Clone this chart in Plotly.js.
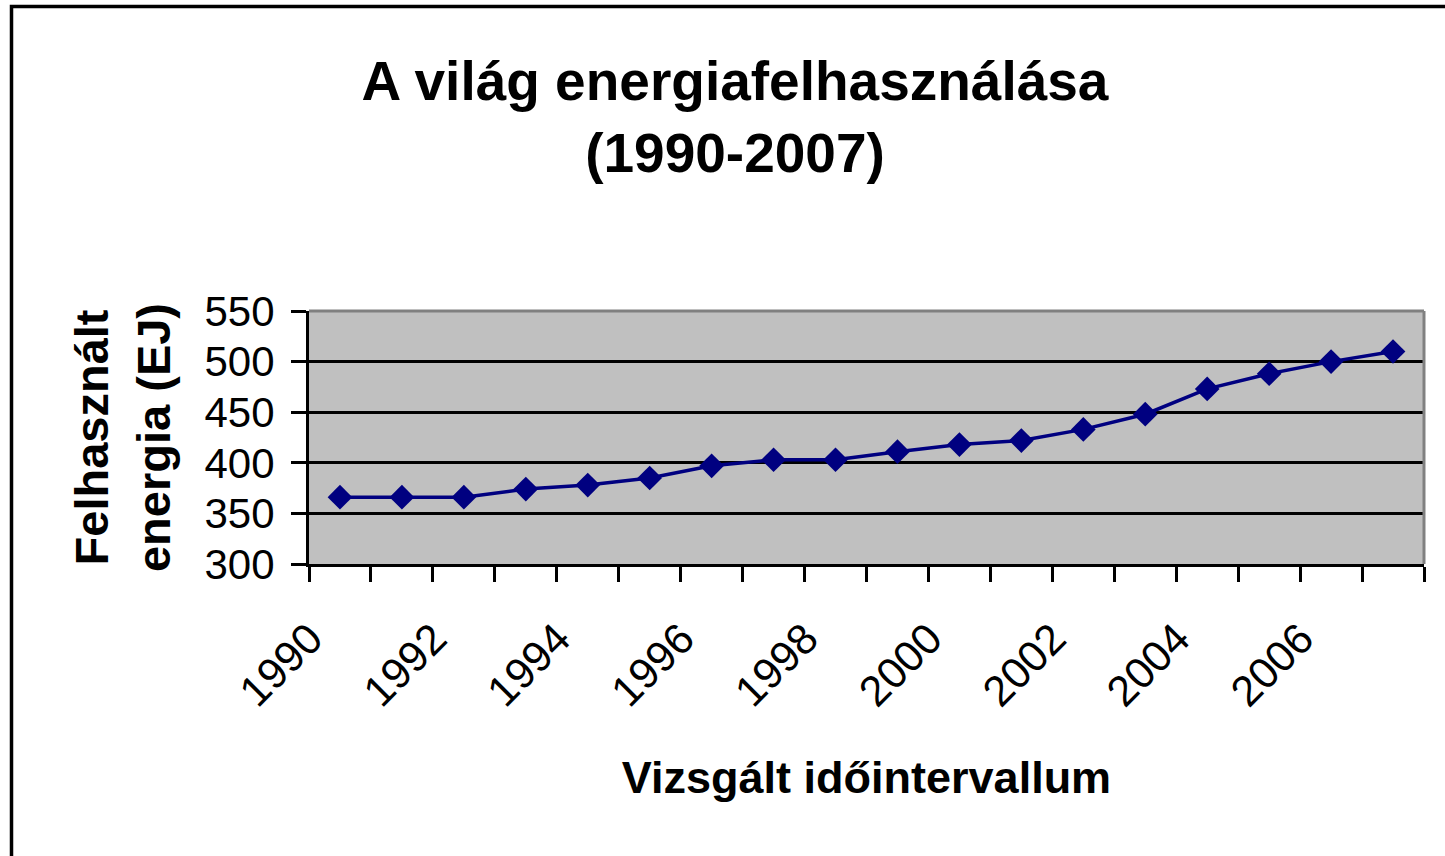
<!DOCTYPE html>
<html>
<head>
<meta charset="utf-8">
<script src="https://cdn.plot.ly/plotly-3.0.1.min.js"></script>
<style>
  html, body { margin: 0; padding: 0; background: #ffffff; }
  #chart { width: 1445px; height: 856px; }
</style>
</head>
<body>
<div id="chart"></div>
<script>
// ---- data ----
const years = [1990, 1991, 1992, 1993, 1994, 1995, 1996, 1997, 1998, 1999,
               2000, 2001, 2002, 2003, 2004, 2005, 2006, 2007];
const energyEJ = [366, 366, 366, 374, 378, 385, 397, 403, 403, 411,
                  418, 422, 433, 448, 473, 488, 500, 510];
const xTickVals = [1990, 1992, 1994, 1996, 1998, 2000, 2002, 2004, 2006];
const xTickText = ['1990', '1992', '1994', '1996', '1998', '2000', '2002', '2004', '2006'];
const yTickVals = [300, 350, 400, 450, 500, 550];

const chartTitle = 'A világ energiafelhasználása<br>(1990-2007)';
const xTitle = 'Vizsgált időintervallum';
const yTitle = 'Felhasznált<br>energia (EJ)';

// ---- layout geometry ----
const W = 1445, H = 856;
const M = { l: 309, r: 21, t: 311, b: 292 };
const plotW = W - M.l - M.r, plotH = H - M.t - M.b;
const px2x = px => (px - M.l) / plotW;
const py2y = py => (H - M.b - py) / plotH;

const FONT = '"Liberation Sans", Arial, sans-serif';

const trace = {
  x: years,
  y: energyEJ,
  type: 'scatter',
  mode: 'lines+markers',
  line: { color: '#000080', width: 3.5 },
  marker: { symbol: 'diamond', size: 19, color: '#000080' },
  cliponaxis: false,
  hoverinfo: 'x+y'
};

const layout = {
  width: W, height: H,
  margin: M,
  paper_bgcolor: '#ffffff',
  plot_bgcolor: '#c0c0c0',
  showlegend: false,
  font: { family: FONT, color: '#000000' },
  title: {
    text: chartTitle,
    font: { family: FONT, size: 55, color: '#000000', weight: 'bold' },
    x: 735 / W, xanchor: 'center', xref: 'container',
    y: 1 - 100 / H, yanchor: 'top', yref: 'container'
  },
  xaxis: {
    range: [1989.5, 2007.5],
    tickvals: xTickVals,
    ticktext: xTickText,
    ticks: '',
    tickangle: -45,
    tickfont: { family: FONT, size: 43, color: '#000000' },
    ticklabelstandoff: 29,
    ticklabelshift: -30,
    showgrid: false,
    zeroline: false,
    showline: true, linecolor: '#000000', linewidth: 3,
    minor: {
      tick0: 1989.5, dtick: 1,
      ticks: 'outside', ticklen: 15, tickwidth: 3, tickcolor: '#000000',
      showgrid: false
    },
    title: {
      text: xTitle,
      font: { family: FONT, size: 45, color: '#000000', weight: 'bold' },
      standoff: 48
    },
    fixedrange: true
  },
  yaxis: {
    range: [300, 550],
    tickvals: yTickVals,
    ticks: 'outside', ticklen: 15, tickwidth: 3, tickcolor: '#000000',
    tickfont: { family: FONT, size: 42, color: '#000000' },
    ticklabelstandoff: 8,
    showgrid: true, gridcolor: '#000000', gridwidth: 3,
    zeroline: false,
    showline: true, linecolor: '#000000', linewidth: 3,
    title: {
      text: yTitle,
      font: { family: FONT, size: 47, color: '#000000', weight: 'bold' },
      standoff: 20
    },
    fixedrange: true
  },
  shapes: [
    // grey frame of the plot area (top and right edges)
    { type: 'line', xref: 'paper', yref: 'paper', x0: 0, x1: 1, y0: 1, y1: 1,
      line: { color: '#808080', width: 3 }, layer: 'above' },
    { type: 'line', xref: 'paper', yref: 'paper', x0: 1, x1: 1, y0: 0, y1: 1,
      line: { color: '#808080', width: 3 }, layer: 'above' },
    // outer chart border (left and top, cut off at right and bottom)
    { type: 'path', xref: 'paper', yref: 'paper',
      path: 'M ' + px2x(11.5) + ' ' + py2y(H + 5) +
            ' L ' + px2x(11.5) + ' ' + py2y(6.5) +
            ' L ' + px2x(W + 5) + ' ' + py2y(6.5),
      line: { color: '#000000', width: 3.5 }, layer: 'above' }
  ]
};

Plotly.newPlot('chart', [trace], layout, { displayModeBar: false, staticPlot: true });
</script>
</body>
</html>
